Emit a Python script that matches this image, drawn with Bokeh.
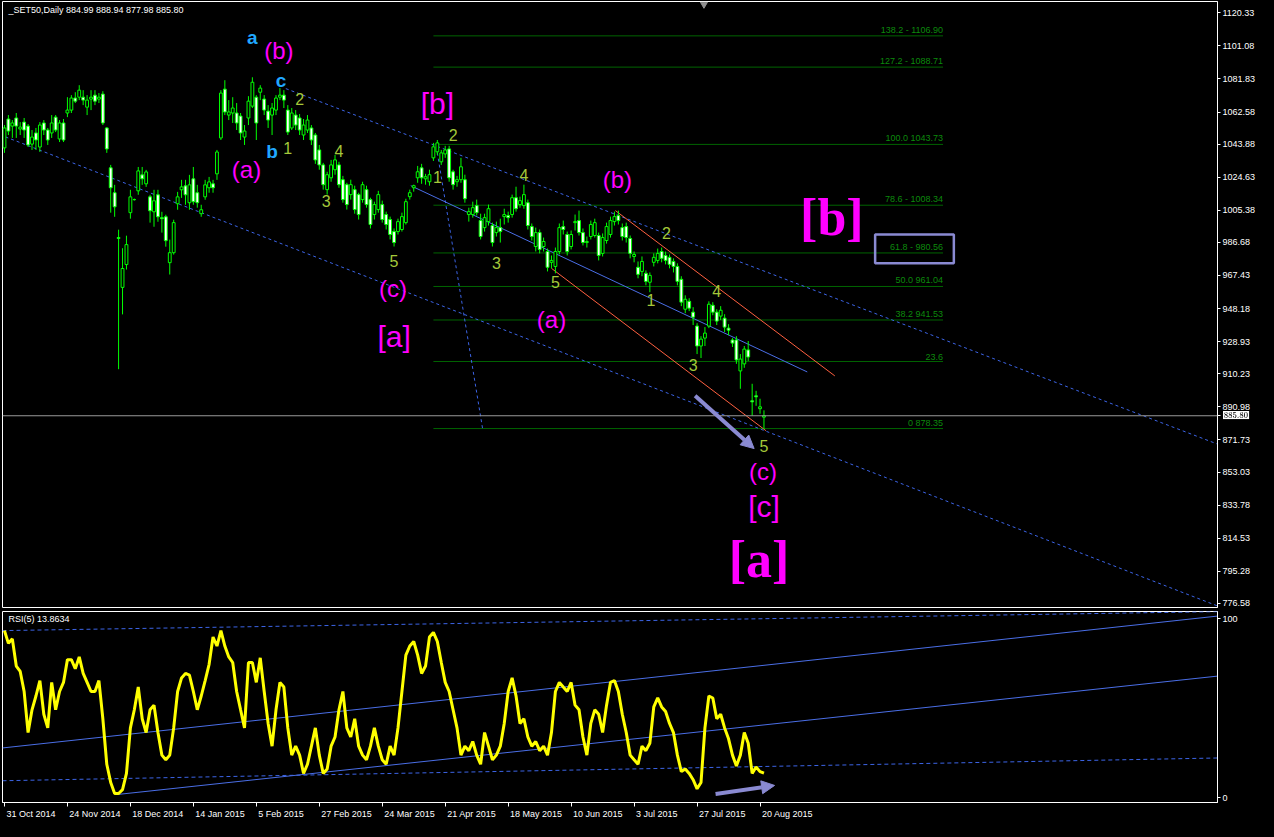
from bokeh.plotting import figure
from bokeh.models import (Range1d, FixedTicker, Label, Span, Arrow, NormalHead, MathML, AllLabels,
                          PrintfTickFormatter, GlobalInlineStyleSheet)
from bokeh.layouts import column
from bokeh.embed import file_html
from bokeh.resources import INLINE
from bokeh.core.properties import value

# ---------------- data ----------------
opens = [
1041.7,1058.5,1054.4,1059.1,1052.7,1056.7,1054.4,1043.9,1050.4,1042.2,
1056.2,1052.1,1050.4,1059.6,1046.9,1056.2,1062.0,1063.7,1070.7,1071.2,
1071.2,1065.4,1070.1,1072.4,1070.1,1073.0,1053.3,1030.1,1015.6,989.5,
960.5,973.8,1004.0,1011.6,1016.7,1026.0,1020.8,1013.2,1004.5,1014.4,
1001.1,1001.6,974.9,980.7,1009.2,1017.3,1019.6,1009.8,1023.7,1015.6,
1003.4,1013.2,1018.5,1020.8,1026.6,1047.5,1075.9,1060.8,1062.0,1062.0,
1060.2,1048.0,1059.1,1066.0,1071.2,1074.1,1070.1,1063.1,1060.8,1063.7,
1071.2,1072.4,1063.7,1053.3,1060.8,1059.1,1049.2,1052.1,1053.3,1049.2,
1040.5,1031.8,1017.4,1024.3,1029.0,1031.8,1023.2,1020.3,1014.5,1017.4,
1014.5,1011.6,1017.4,1011.6,1002.9,1005.8,1008.7,1002.9,1000.0,993.0,
993.0,994.2,998.2,1013.3,1018.5,1024.3,1030.1,1023.7,1022.0,1035.9,
1039.4,1033.6,1038.2,1041.1,1027.8,1022.0,1023.2,1023.2,1002.9,1002.9,
1008.1,999.4,995.3,998.8,996.5,992.4,995.3,1001.7,1002.3,1002.9,
1012.7,1008.7,1008.1,1009.8,995.9,984.3,992.4,984.3,981.4,975.1,
972.7,981.4,995.9,991.3,984.3,998.2,999.4,992.4,986.6,990.1,
990.7,990.7,980.3,987.8,991.3,998.8,1002.3,995.3,995.9,989.0,
978.5,972.2,969.8,968.7,963.5,975.1,976.2,981.4,979.1,978.0,
975.6,972.7,965.2,947.8,952.4,946.1,938.0,926.4,931.0,938.0,
950.1,946.1,943.8,942.6,936.8,929.9,929.9,911.9,916.0,924.1,
894.5,897.4,889.9,884.99]
highs = [
1055.0,1060.8,1057.9,1062.0,1056.7,1059.1,1055.6,1052.1,1053.3,1056.7,
1057.9,1053.3,1060.8,1060.8,1057.9,1058.5,1071.2,1072.4,1074.1,1078.2,
1075.3,1072.4,1075.3,1075.3,1073.6,1074.7,1053.8,1031.8,1020.2,994.1,
983.3,990.6,1017.3,1012.2,1030.6,1030.6,1028.9,1014.4,1017.3,1017.3,
1004.5,1002.8,988.3,999.9,1016.1,1023.1,1023.1,1026.0,1030.6,1020.2,
1008.6,1023.1,1024.8,1023.1,1040.5,1075.3,1081.1,1069.5,1071.2,1067.8,
1062.0,1055.0,1071.8,1082.8,1072.4,1078.2,1072.4,1066.6,1067.8,1072.4,
1076.5,1075.3,1066.6,1064.9,1063.7,1061.4,1058.5,1060.8,1055.0,1050.4,
1043.4,1033.0,1027.8,1034.7,1037.6,1033.6,1025.4,1021.4,1023.2,1019.7,
1015.6,1022.0,1019.7,1012.7,1010.4,1016.7,1011.0,1004.6,1001.7,994.8,
1000.5,1004.0,1012.1,1017.4,1020.3,1031.2,1032.4,1026.6,1029.0,1044.6,
1046.3,1040.5,1042.9,1042.9,1029.0,1025.4,1035.9,1026.1,1006.9,1010.4,
1011.6,1003.4,1003.4,1008.7,998.2,998.8,1000.5,1006.3,1004.6,1014.5,
1019.1,1013.3,1020.3,1011.6,997.7,995.3,994.2,989.5,983.1,979.1,
983.7,997.7,999.4,993.0,993.6,1002.9,1005.2,994.8,990.1,999.4,
1000.5,992.4,991.9,998.2,1001.7,1004.6,1005.2,997.7,998.2,990.7,
981.4,975.6,978.5,970.4,969.2,980.3,983.1,983.7,981.4,979.7,
977.4,974.5,967.0,955.9,954.2,949.0,939.7,932.1,937.4,952.4,
951.9,947.8,949.6,944.9,939.1,931.0,932.1,921.7,926.4,929.3,
904.4,900.3,895.7,888.94]
lows = [
1038.8,1049.2,1047.5,1047.5,1049.2,1047.5,1042.2,1040.5,1040.5,1039.3,
1049.2,1043.4,1047.5,1050.9,1045.1,1045.1,1059.6,1062.0,1067.8,1069.5,
1066.6,1060.8,1063.7,1066.6,1067.8,1055.0,1038.8,1004.0,1001.6,912.9,
944.8,970.9,1000.5,1011.0,1014.4,1020.2,1019.0,998.2,995.8,998.7,
992.4,984.2,968.0,979.6,1005.7,1012.6,1008.6,1005.7,1008.6,1006.9,
1001.6,1011.5,1015.6,1015.6,1023.1,1046.3,1060.8,1057.9,1056.2,1052.1,
1046.3,1043.4,1055.0,1064.9,1046.3,1069.5,1060.8,1053.3,1049.2,1060.8,
1069.5,1064.9,1049.2,1052.1,1052.1,1049.2,1046.3,1050.4,1043.4,1032.4,
1029.0,1017.4,1014.5,1022.0,1026.1,1018.5,1009.8,1005.8,1011.6,1003.4,
1000.0,1009.8,1006.9,994.8,1000.0,1004.0,998.2,994.2,988.4,984.3,
991.3,993.0,997.1,1011.6,1016.2,1021.4,1020.8,1020.3,1019.7,1034.1,
1037.6,1031.8,1035.9,1022.0,1017.4,1019.1,1021.4,1009.8,998.8,1001.1,
1002.3,988.4,993.0,996.5,984.3,990.1,986.6,997.1,998.2,1001.1,
1004.6,1006.9,1006.3,994.2,987.8,981.4,980.3,981.4,969.8,971.6,
968.7,979.7,991.3,979.1,982.6,993.6,990.7,984.9,983.7,988.4,
989.5,976.2,978.5,986.0,989.5,996.5,997.1,987.8,986.6,977.4,
975.1,965.8,967.0,961.7,957.7,972.7,974.5,975.1,973.9,971.6,
969.2,961.7,949.6,945.5,946.7,938.6,921.7,919.4,926.4,936.8,
944.3,938.6,941.5,934.5,932.7,925.8,916.0,901.5,913.7,917.7,
885.8,891.6,887.0,877.98]
closes = [
1053.3,1051.5,1056.2,1054.4,1053.8,1052.1,1043.4,1048.0,1046.3,1055.0,
1052.1,1046.3,1056.2,1052.1,1056.2,1046.3,1063.7,1070.7,1068.9,1075.3,
1069.5,1069.5,1071.2,1068.9,1071.2,1056.2,1041.1,1018.5,1007.4,989.0,
971.5,985.4,1013.2,1011.6,1028.3,1023.7,1027.7,1005.1,1010.9,1001.6,
1000.5,987.7,980.7,998.2,1013.2,1019.0,1014.4,1020.2,1010.4,1009.8,
1005.7,1020.2,1021.9,1018.5,1039.3,1073.6,1062.6,1062.6,1064.9,1056.2,
1050.4,1051.5,1068.9,1079.9,1056.2,1076.5,1063.7,1057.9,1064.9,1070.7,
1072.4,1069.5,1050.9,1062.0,1055.0,1052.1,1055.0,1057.9,1046.3,1034.7,
1031.8,1020.3,1026.1,1031.8,1034.7,1020.3,1011.6,1008.7,1020.3,1005.8,
1002.9,1020.3,1008.7,997.1,1008.7,1014.5,1000.0,997.1,991.3,986.6,
998.8,1001.7,1010.4,1015.6,1019.7,1027.8,1024.3,1024.9,1026.1,1042.3,
1044.6,1038.8,1040.5,1024.3,1020.3,1023.2,1030.7,1012.1,1004.6,1006.9,
1004.0,990.1,1001.1,1006.3,986.6,995.3,993.0,1002.9,1001.1,1012.7,
1006.3,1011.0,1014.5,996.5,990.1,992.4,982.6,987.2,972.2,976.2,
981.4,995.3,994.2,981.4,991.3,998.8,992.4,986.6,987.2,997.1,
998.2,979.1,989.5,995.9,999.4,1001.7,999.4,990.1,989.5,980.3,
979.7,968.1,975.6,964.0,967.5,978.0,980.3,977.4,976.2,973.9,
972.7,964.0,951.9,953.6,948.4,943.2,926.4,930.4,933.9,950.7,
946.1,940.9,947.2,937.4,935.6,928.1,918.3,918.8,924.6,920.0,
893.9,896.8,891.0,885.80]
rsi_values = [
93.4,86.3,88.8,73.6,70.6,59.4,36.5,49.2,56.9,65.5,
46.7,39.1,64.5,49.2,59.4,64.5,77.2,77.2,72.1,78.7,
69.5,64.5,59.4,59.4,65.5,44.2,18.8,8.6,2.5,2.5,
4.6,13.7,39.1,49.2,61.9,44.2,36.5,49.2,51.8,36.5,
23.9,21.3,23.9,39.1,59.4,67.0,69.5,68.5,59.4,49.2,
56.9,65.5,74.6,89.8,84.8,93.4,84.8,78.7,75.6,59.4,
49.2,39.1,75.6,75.6,64.5,78.2,59.4,41.6,28.9,49.2,
64.5,61.9,39.1,23.9,28.9,23.9,13.7,18.8,28.9,39.1,
23.9,13.7,16.2,28.9,34.0,49.2,59.4,39.1,34.0,44.2,
28.9,23.9,21.3,28.9,39.1,28.9,21.3,18.8,28.9,23.9,
39.1,59.4,79.7,84.8,87.3,79.7,69.5,73.6,89.8,92.4,
87.3,75.6,64.5,59.4,49.2,39.1,23.9,28.9,26.4,31.5,
23.9,18.8,36.5,28.9,21.3,23.9,28.9,41.6,59.4,67.0,
56.9,41.6,44.2,34.0,28.9,31.5,26.4,28.9,23.9,36.5,
59.4,64.5,61.9,59.4,64.5,51.8,49.2,34.0,23.9,41.6,
49.2,46.7,36.5,51.8,64.5,65.5,59.4,46.7,36.5,23.9,
21.3,18.8,28.9,26.4,30.5,50.8,55.8,50.8,48.2,41.6,
36.5,23.9,14.7,16.2,13.7,10.2,5.1,8.6,39.1,56.9,
55.8,44.2,46.7,39.1,33.0,23.9,17.8,23.9,36.5,30.5,
13.7,17.3,14.7,13.86]

price_ticks = [1120.33, 1101.08, 1081.83, 1062.58, 1043.88, 1024.63, 1005.38, 986.68,
               967.43, 948.18, 928.93, 910.23, 890.98, 871.73, 853.03, 833.78, 814.53,
               795.28, 776.58]
date_idx = [0, 16, 32, 48, 64, 80, 96, 112, 128, 144, 160, 176, 192]
date_labels = ["31 Oct 2014", "24 Nov 2014", "18 Dec 2014", "14 Jan 2015", "5 Feb 2015",
               "27 Feb 2015", "24 Mar 2015", "21 Apr 2015", "18 May 2015", "10 Jun 2015",
               "3 Jul 2015", "27 Jul 2015", "20 Aug 2015"]

fib_levels = [138.2, 127.2, 100.0, 78.6, 61.8, 50.0, 38.2, 23.6, 0.0]
fib_prices = [1106.90, 1088.71, 1043.73, 1008.34, 980.56, 961.04, 941.53, 917.38, 878.35]
fib_labels = ["138.2 - 1106.90", "127.2 - 1088.71", "100.0 1043.73", "78.6 - 1008.34",
              "61.8 - 980.56", "50.0 961.04", "38.2 941.53", "23.6", "0 878.35"]
fib_start, fib_end = 109.0, 238.5

# trend lines (bar index, price)
upper_channel = ([71.5, 308.25], [1076.2, 869.3])
lower_channel = ([0.25, 308.25], [1048.1, 775.1])
steep_line = ([109.75, 121.5], [1042.3, 878.3])
blue_line = ([103.25, 204.0], [1019.7, 911.3])
red_upper = ([155.25, 211.0], [1005.2, 909.0])
red_lower = ([139.0, 193.5], [971.6, 877.1])
target_box = (221.25, 241.25, 974.5, 991.3)
price_arrow = (175.5, 897.4, 190.5, 866.7)

# RSI trend lines (bar index, rsi)
rsi_dash_top = ([-0.5, 308.25], [93.4, 104.0])
rsi_line_a = ([29.0, 308.25], [2.0, 68.0])
rsi_line_b = ([-0.5, 308.25], [27.9, 101.5])
rsi_dash_bot = ([-0.5, 308.25], [9.6, 22.3])
rsi_arrow = (180.7, 2.2, 195.7, 7.0)

YG, CY, MG = "#a4c83a", "#20a8ff", "#ff00ff"
num_labels = [("2", 75, 1070.1), ("1", 72, 1041.7), ("4", 85, 1040.0), ("3", 81.75, 1011.0),
              ("5", 99, 975.6), ("2", 114, 1049.2), ("1", 110, 1025.0), ("4", 132, 1026.1),
              ("3", 125, 974.5), ("5", 140, 963.5), ("2", 168.25, 992.4), ("1", 164.25, 953.0),
              ("4", 181, 958.3), ("3", 175, 915.4), ("5", 193, 868.4)]
abc_labels = [("a", 63, 1106.0), ("c", 70.25, 1081.1), ("b", 68, 1039.4)]
paren_labels = [("(b)", 69.75, 1098.5), ("(a)", 61.5, 1029.0), ("(c)", 98.75, 960.0),
                ("(b)", 155.75, 1023.2), ("(a)", 139, 942.0), ("(c)", 192.75, 853.4)]
bracket_labels = [("[a]", 99, 932.2), ("[b]", 110, 1067.8), ("[c]", 193, 833.1)]
big_labels = [("[a]", 191.75, 802.4, "52px"), ("[b]", 210.25, 1001.1, "52px")]

# ---------------- layout ----------------
W = 1258
RB = 38
FONT = "Liberation Sans"
xr = Range1d(-0.5, 308.25)

main = figure(width=W, height=610, x_range=xr, y_range=Range1d(774.2, 1126.9),
              output_backend="svg", toolbar_location=None, x_axis_location=None,
              y_axis_location="right", background_fill_color="black",
              border_fill_color="black", min_border_left=2, min_border_right=RB,
              min_border_top=1, min_border_bottom=3)
main.xgrid.visible = False
main.ygrid.visible = False
main.outline_line_color = "white"

last = closes[-1]
ya = main.yaxis[0]
ya.ticker = FixedTicker(ticks=price_ticks + [last])
ya.formatter = PrintfTickFormatter(format="%.2f")
# current price tag on the price scale (black on white)
ya.major_label_overrides = {last: MathML(text=(
    '<math><mstyle mathbackground="#ffffff" mathcolor="#000000" mathsize="14px">'
    '<mpadded height="+2px" depth="+2px" width="+4px" lspace="2px">'
    '<mtext mathcolor="#000000">%.2f</mtext></mpadded></mstyle></math>' % last))}
ya.major_label_policy = AllLabels()
ya.axis_line_color = "white"
ya.major_tick_line_color = "white"
ya.major_tick_out = 3
ya.major_tick_in = 0
ya.minor_tick_line_color = None
ya.major_label_text_color = "white"
ya.major_label_text_font = FONT
ya.major_label_text_font_size = "9px"
ya.major_label_standoff = 2

idx = list(range(len(closes)))
tops = [max(o, c) for o, c in zip(opens, closes)]
bots = [min(o, c) for o, c in zip(opens, closes)]
fills = ["white" if c < o else "black" for o, c in zip(opens, closes)]

# fib lines
main.segment(x0=[fib_start] * len(fib_prices), y0=fib_prices,
             x1=[fib_end] * len(fib_prices), y1=fib_prices, line_color="#006400", line_width=1)
main.text(x=[fib_end] * len(fib_prices), y=fib_prices, text=fib_labels,
          text_align="right", text_baseline="bottom", y_offset=-1,
          text_color="#0c8a0c", text_font_size="9px", text_font=value(FONT))

# current price
main.add_layout(Span(location=last, dimension="width", line_color="#9a9a9a", line_width=1))

# channels
main.line(*upper_channel, line_color="#3c64e6", line_dash="3 3", line_width=1)
main.line(*lower_channel, line_color="#3c64e6", line_dash="3 3", line_width=1)
main.line(*steep_line, line_color="#3c64e6", line_dash="3 3", line_width=1)
main.line(*blue_line, line_color="#4a6ee6", line_width=1)
main.line(*red_upper, line_color="#ff6040", line_width=1)
main.line(*red_lower, line_color="#ff6040", line_width=1)

# candles
main.segment(x0=idx, y0=highs, x1=idx, y1=lows, line_color="#00ff00", line_width=1)
main.vbar(x=idx, width=0.72, top=tops, bottom=bots, fill_color=fills,
          line_color="#00ff00", line_width=1)

# box & arrow
AC = "#8a8ad2"
main.quad(left=[target_box[0]], right=[target_box[1]], bottom=[target_box[2]], top=[target_box[3]],
          fill_alpha=0, line_color=AC, line_width=2.5)
main.add_layout(Arrow(end=NormalHead(size=13, fill_color=AC, line_color=AC),
                      x_start=price_arrow[0], y_start=price_arrow[1],
                      x_end=price_arrow[2], y_end=price_arrow[3],
                      line_color=AC, line_width=4))

# wave labels
def put(lbls, color, size, font=FONT, style="normal"):
    main.text(x=[l[1] for l in lbls], y=[l[2] for l in lbls], text=[l[0] for l in lbls],
              text_color=color, text_font_size=size, text_font=value(font),
              text_font_style=style, text_align="center", text_baseline="middle")

put(num_labels, YG, "16px")
put(abc_labels, CY, "19px", style="bold")
put(paren_labels, MG, "24px")
put(bracket_labels, MG, "30px")
for t, x, y, s in big_labels:
    put([(t, x, y)], MG, s, font="Liberation Serif", style="bold")

main.scatter(x=[177.75], y=[1125.3], marker="inverted_triangle", size=7, color="#909090")

main.add_layout(Label(x=1, y=1122.2, text="_SET50,Daily  884.99 888.94 877.98 885.80",
                      text_color="white", text_font_size="9px", text_font=FONT,
                      text_baseline="middle"))

# ---------------- RSI ----------------
rsi = figure(width=W, height=211, x_range=xr, y_range=Range1d(-2.54, 104.06),
             output_backend="svg", toolbar_location=None, y_axis_location="right",
             background_fill_color="black", border_fill_color="black",
             min_border_left=2, min_border_right=RB, min_border_top=1, min_border_bottom=0)
rsi.xgrid.visible = False
rsi.ygrid.visible = False
rsi.outline_line_color = "white"

ry = rsi.yaxis[0]
ry.ticker = FixedTicker(ticks=[0, 100])
ry.formatter = PrintfTickFormatter(format="%d")
ry.axis_line_color = "white"
ry.major_tick_line_color = "white"
ry.major_tick_out = 3
ry.major_tick_in = 0
ry.minor_tick_line_color = None
ry.major_label_text_color = "white"
ry.major_label_text_font = FONT
ry.major_label_text_font_size = "9px"
ry.major_label_standoff = 2

AWID = {'0': 556, '1': 556, '2': 556, '3': 556, '4': 556, '5': 556, '6': 556, '7': 556,
        '8': 556, '9': 556, ' ': 278, 'O': 778, 'c': 500, 't': 278, 'N': 722, 'o': 556,
        'v': 500, 'D': 722, 'e': 556, 'J': 500, 'a': 556, 'n': 556, 'F': 611, 'b': 556,
        'M': 833, 'r': 333, 'A': 667, 'p': 556, 'y': 500, 'u': 556, 'l': 222, 'g': 556}
px_per_bar = (W - 2 - RB) / (xr.end - xr.start)
centers = []
for d, s in zip(date_idx, date_labels):
    w = sum(AWID.get(ch, 556) for ch in s) * 9 / 1000
    centers.append(round(d + (2 + w / 2) / px_per_bar, 3))
xa = rsi.xaxis[0]
xa.ticker = FixedTicker(ticks=centers, minor_ticks=date_idx)
xa.major_label_overrides = {c: s for c, s in zip(centers, date_labels)}
xa.axis_line_color = "white"
xa.major_tick_line_color = None
xa.major_tick_out = 0
xa.major_tick_in = 0
xa.minor_tick_line_color = "white"
xa.minor_tick_out = 4
xa.minor_tick_in = 0
xa.major_label_text_color = "white"
xa.major_label_text_font = FONT
xa.major_label_text_font_size = "9px"
xa.major_label_standoff = 2

rsi.line(*rsi_dash_top, line_color="#3c64e6", line_dash="4 3", line_width=1)
rsi.line(*rsi_dash_bot, line_color="#3c64e6", line_dash="4 3", line_width=1)
rsi.line(*rsi_line_a, line_color="#4a6ee6", line_width=1)
rsi.line(*rsi_line_b, line_color="#4a6ee6", line_width=1)
rsi.line(idx, rsi_values, line_color="#ffff00", line_width=3)
rsi.add_layout(Arrow(end=NormalHead(size=13, fill_color=AC, line_color=AC),
                     x_start=rsi_arrow[0], y_start=rsi_arrow[1],
                     x_end=rsi_arrow[2], y_end=rsi_arrow[3],
                     line_color=AC, line_width=4))
rsi.add_layout(Label(x=1, y=100, text="RSI(5) 13.8634", text_color="white",
                     text_font_size="9px", text_font=FONT, text_baseline="middle"))

layout = column(main, rsi, spacing=0,
                stylesheets=[GlobalInlineStyleSheet(css="html, body { background-color: #000; }")])
open("out.html", "w").write(file_html(layout, INLINE))
